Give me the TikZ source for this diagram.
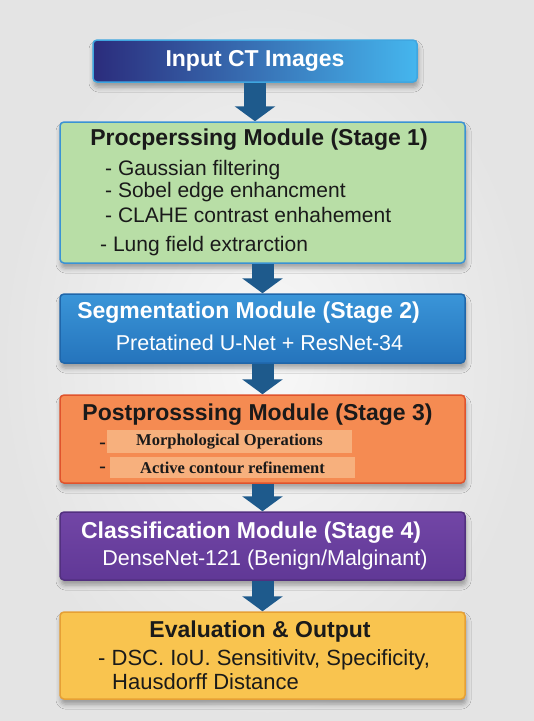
\documentclass[tikz,border=0pt]{standalone}
\usepackage{fontspec}
\setmainfont{Liberation Sans}
\newfontfamily\serifbold{Liberation Serif}
\usetikzlibrary{arrows.meta,shadows.blur,calc}
\definecolor{bgin}{HTML}{F8F8F8}
\definecolor{bgout}{HTML}{E4E4E4}
\definecolor{navy}{HTML}{2B2C7C}
\definecolor{skyb}{HTML}{45B6EE}
\definecolor{inborder}{HTML}{3FA6E0}
\definecolor{prefill}{HTML}{B8DEA6}
\definecolor{preborder}{HTML}{3A92D4}
\definecolor{segtop}{HTML}{3A95D8}
\definecolor{segbot}{HTML}{2574BC}
\definecolor{segborder}{HTML}{1F66AA}
\definecolor{postfill}{HTML}{F58B52}
\definecolor{postborder}{HTML}{E0532C}
\definecolor{subfill}{HTML}{F7B07D}
\definecolor{clstop}{HTML}{7246A6}
\definecolor{clsbot}{HTML}{603896}
\definecolor{clsborder}{HTML}{52307F}
\definecolor{evalfill}{HTML}{F9C44F}
\definecolor{evalborder}{HTML}{E6A035}
\definecolor{arrowc}{HTML}{1E5A8C}
\definecolor{txt}{HTML}{1A1A1A}
\begin{document}
\begin{tikzpicture}[x=1pt,y=-1pt,
  box/.style={draw, line width=1.5pt, rounded corners=4pt, inner sep=0pt,
    blur shadow={shadow xshift=1pt, shadow yshift=-5pt, shadow blur radius=5pt, shadow opacity=35}},
  flow/.style={draw=arrowc, line width=22pt, -{Triangle[width=40pt,length=15pt]}},
  ttl/.style={font=\fontsize{23}{26}\selectfont\bfseries, inner sep=0pt},
  body/.style={font=\fontsize{21.5}{24}\selectfont, inner sep=0pt},
  item/.style={font=\fontsize{21}{24}\selectfont, inner sep=0pt, anchor=west, text=txt},
  subbox/.style={fill=subfill, inner sep=0pt, font=\serifbold\fontsize{16.5}{18}\selectfont\bfseries, text=txt}
]
\useasboundingbox (0,0) rectangle (534,721);
\shade[inner color=bgin, outer color=bgout] (0,0) rectangle (534,721);

% boxes
\node[box, draw=inborder, left color=navy, right color=skyb, minimum width=324pt, minimum height=42pt] (in) at (255,61) {};
\node[box, draw=preborder, fill=prefill, minimum width=405pt, minimum height=141pt] (pre) at (262.5,192.5) {};
\node[box, draw=segborder, top color=segtop, bottom color=segbot, minimum width=405pt, minimum height=69pt] (seg) at (262.5,328.5) {};
\node[box, draw=postborder, fill=postfill, minimum width=405pt, minimum height=88pt] (post) at (262.5,439) {};
\node[box, draw=clsborder, top color=clstop, bottom color=clsbot, minimum width=405pt, minimum height=68pt] (cls) at (262.5,546) {};
\node[box, draw=evalborder, fill=evalfill, minimum width=405pt, minimum height=87pt] (eval) at (262.5,655.5) {};

% texts
\node[ttl, text=white] (intext) at (255,61) {Input CT Images};

\node[ttl, text=txt] (pretitle) at (259,140) {Procperssing Module (Stage 1)};
\node[item] (pre1) at (105,170) {- Gaussian filtering};
\node[item] (pre2) at (105,192) {- Sobel edge enhancment};
\node[item] (pre3) at (105,215) {- CLAHE contrast enhahement};
\node[item] (pre4) at (100,246) {- Lung field extrarction};

\node[ttl, text=white] (segtitle) at (248.5,313) {Segmentation Module (Stage 2)};
\node[body, text=white] (segsub) at (259.5,343) {Pretatined U-Net + ResNet-34};

\node[ttl, text=txt] (posttitle) at (257.5,415) {Postprosssing Module (Stage 3)};
\node[subbox, minimum width=245pt, minimum height=23pt] (post1) at (229.5,441.5) {Morphological Operations};
\node[subbox, minimum width=245pt, minimum height=21pt] (post2) at (232.5,467.5) {Active contour refinement};
\node[item] (dash1) at (99,446) {-};
\node[item] (dash2) at (99,470) {-};

\node[ttl, text=white] (clstitle) at (251,533) {Classification Module (Stage 4)};
\node[body, text=white] (clssub) at (265,560) {DenseNet-121 (Benign/Malginant)};

\node[ttl, text=txt] (evaltitle) at (260,632) {Evaluation \& Output};
\node[item, font=\fontsize{22}{24}\selectfont] (eval1) at (98,660) {- DSC. IoU. Sensitivitv, Specificity,};
\node[item, font=\fontsize{22}{24}\selectfont] (eval2) at (112,682) {Hausdorff Distance};

% arrows
\draw[flow] (in.south) -- (in.south |- pre.north);
\draw[flow] (pre.south) -- (seg.north);
\draw[flow] (seg.south) -- (post.north);
\draw[flow] (post.south) -- (cls.north);
\draw[flow] (cls.south) -- (eval.north);
\end{tikzpicture}
\end{document}
